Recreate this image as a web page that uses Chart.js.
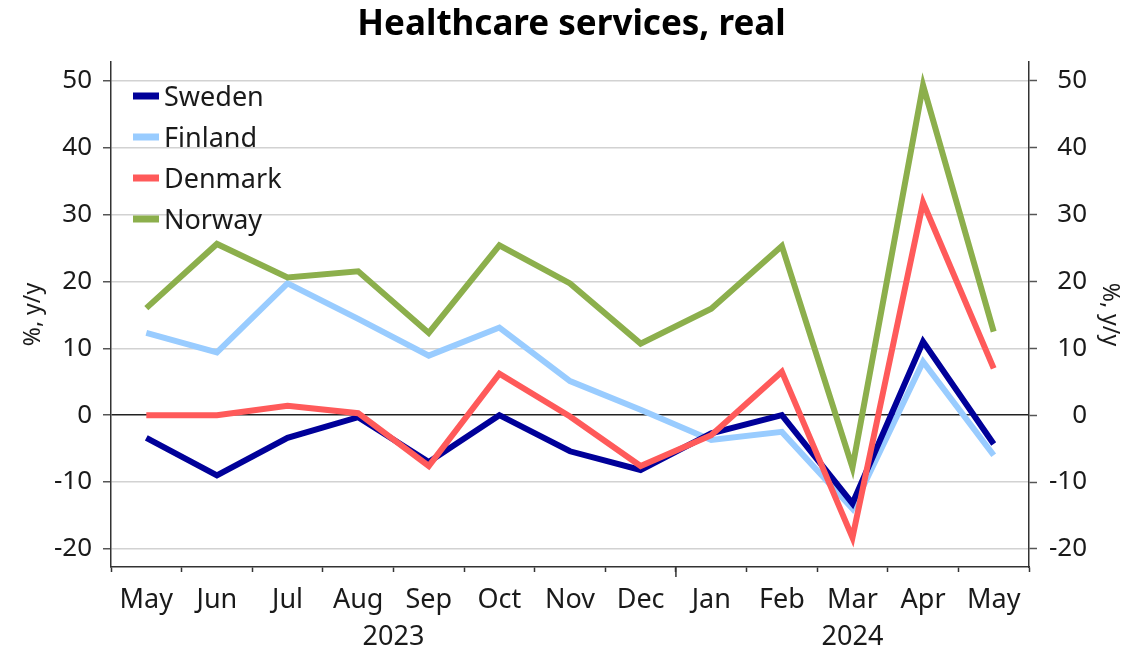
<!DOCTYPE html>
<html>
<head>
<meta charset="utf-8">
<title>Healthcare services, real</title>
<script src="https://cdn.jsdelivr.net/npm/chart.js@4/dist/chart.umd.min.js"></script>
<style>
  html, body { margin: 0; padding: 0; background: #fff; }
  #wrap { width: 1143px; height: 651px; }
</style>
</head>
<body>
<div id="wrap"><canvas id="healthChart" width="1143" height="651"></canvas></div>
<script>
// chart values
const months = ["May", "Jun", "Jul", "Aug", "Sep", "Oct", "Nov", "Dec", "Jan", "Feb", "Mar", "Apr", "May"];
const years = ["2023", "2024"];
const yearFirst = [0, 8];   // first month index of each year
const yearLast = [7, 12];   // last month index of each year

const sweden = [-3.4, -9.0, -3.4, -0.3, -7.0, 0.0, -5.4, -8.2, -2.7, 0.0, -13.2, 11.0, -4.3];
const finland = [12.3, 9.4, 19.7, 14.4, 8.9, 13.1, 5.1, 0.8, -3.7, -2.5, -14.0, 8.0, -6.0];
const denmark = [0.0, 0.0, 1.4, 0.3, -7.6, 6.2, -0.2, -7.6, -3.0, 6.5, -18.3, 31.8, 7.0];
const norway = [16.0, 25.6, 20.6, 21.5, 12.3, 25.4, 19.7, 10.7, 15.9, 25.3, -7.8, 49.3, 12.5];

const chartTitle = "Healthcare services, real";

const FONT = "'Noto Sans', 'DejaVu Sans', sans-serif";
Chart.defaults.font.family = FONT;
Chart.defaults.color = "#1a1a1a";

// Title centred over the whole canvas (the built-in one follows the layout padding)
const pageTitle = {
    id: "pageTitle",
    afterDraw(chart) {
        const { ctx } = chart;
        ctx.save();
        ctx.font = "bold 35px " + FONT;
        ctx.fillStyle = "#000";
        ctx.textAlign = "center";
        ctx.textBaseline = "middle";
        ctx.fillText(chartTitle, chart.width / 2, 25);
        ctx.restore();
    }
};

// Legend drawn inside the plot area, top left
const insideLegend = {
    id: "insideLegend",
    afterDatasetsDraw(chart) {
        const { ctx, chartArea } = chart;
        const x0 = chartArea.left + 22;
        const y0 = chartArea.top + 34;
        ctx.save();
        ctx.font = "27px " + FONT;
        ctx.textBaseline = "middle";
        ctx.textAlign = "left";
        chart.data.datasets.forEach((ds, i) => {
            const y = y0 + i * 41;
            ctx.fillStyle = ds.borderColor;
            ctx.fillRect(x0, y - 3.5, 26, 7);
            ctx.fillStyle = "#1a1a1a";
            ctx.fillText(ds.label, x0 + 31, y + 2);
        });
        ctx.restore();
    }
};

// Year labels under the months and the longer year separator tick
const yearAxis = {
    id: "yearAxis",
    afterDraw(chart) {
        const { ctx } = chart;
        const xs = chart.scales.x;
        ctx.save();
        ctx.strokeStyle = "#333";
        ctx.lineWidth = 1.5;
        for (let i = 1; i < years.length; i++) {
            const bx = xs.getPixelForValue(yearFirst[i] - 0.5);
            ctx.beginPath();
            ctx.moveTo(bx, xs.top);
            ctx.lineTo(bx, xs.top + 10);
            ctx.stroke();
        }
        ctx.font = "27px " + FONT;
        ctx.fillStyle = "#1a1a1a";
        ctx.textAlign = "center";
        ctx.textBaseline = "middle";
        years.forEach((yr, i) => {
            const cx = xs.getPixelForValue((yearFirst[i] + yearLast[i]) / 2);
            ctx.fillText(yr, cx, xs.top + 70);
        });
        ctx.restore();
    }
};

const ctx = document.getElementById("healthChart").getContext("2d");

const gridColor = (c) => (c.tick && c.tick.value === 0 ? "#222" : "#d2d2d2");

window.healthChart = new Chart(ctx, {
    type: "line",
    data: {
        labels: months,
        datasets: [
            { label: "Sweden", data: sweden, borderColor: "#000099", order: 2 },
            { label: "Finland", data: finland, borderColor: "#99CCFF", order: 3 },
            { label: "Denmark", data: denmark, borderColor: "#FF5A5A", order: 1 },
            { label: "Norway", data: norway, borderColor: "#8CAF4C", order: 0 },
        ],
    },
    options: {
        responsive: false,
        animation: false,
        devicePixelRatio: 1,
        layout: { padding: { top: 62, right: 56 } },
        elements: {
            line: {
                borderWidth: 6,
                tension: 0,
                fill: false,
                borderJoinStyle: "miter",
                borderCapStyle: "butt",
            },
            point: { radius: 0, hoverRadius: 0 },
        },
        scales: {
            x: {
                offset: true,
                grid: {
                    offset: true,
                    drawOnChartArea: false,
                    tickLength: 5,
                    tickColor: "#333",
                    tickWidth: 1.5,
                },
                border: { color: "#333", width: 1.5 },
                ticks: {
                    font: { size: 27 },
                    color: "#1a1a1a",
                    padding: 12,
                    maxRotation: 0,
                    autoSkip: false,
                },
                afterFit: (s) => { s.height = 84; },
            },
            y: {
                position: "left",
                min: -22.7,
                max: 52.8,
                ticks: {
                    stepSize: 10,
                    includeBounds: false,
                    font: { size: 26 },
                    color: "#1a1a1a",
                    padding: 11,
                },
                grid: {
                    color: gridColor,
                    lineWidth: 1.5,
                    tickLength: 8,
                    tickColor: "#555",
                },
                border: { color: "#333", width: 1.5 },
                title: {
                    display: true,
                    text: "%, y/y",
                    font: { size: 23 },
                    color: "#1a1a1a",
                    padding: { top: 20, bottom: 0 },
                },
                afterFit: (s) => { s.width = 111; },
            },
            y2: {
                position: "right",
                min: -22.7,
                max: 52.8,
                ticks: {
                    stepSize: 10,
                    includeBounds: false,
                    font: { size: 26 },
                    color: "#1a1a1a",
                    padding: 12,
                    crossAlign: "far",
                },
                grid: {
                    drawOnChartArea: false,
                    tickLength: 8,
                    tickColor: "#555",
                    tickWidth: 1.5,
                },
                border: { color: "#333", width: 1.5 },
                title: {
                    display: true,
                    text: "%, y/y",
                    font: { size: 23 },
                    color: "#1a1a1a",
                    padding: { top: -36, bottom: 0 },
                },
                afterFit: (s) => { s.width = 58; },
            },
        },
        plugins: {
            title: { display: false },
            legend: { display: false },
            tooltip: { enabled: false },
        },
    },
    plugins: [insideLegend, yearAxis, pageTitle],
});
</script>
</body>
</html>
